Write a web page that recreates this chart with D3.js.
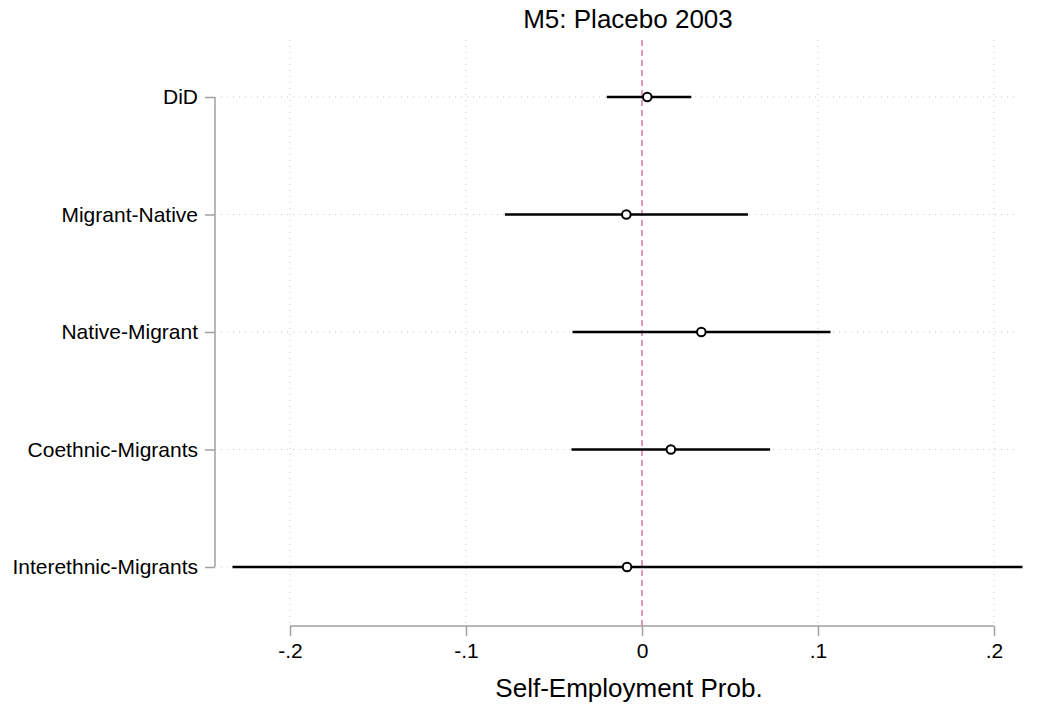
<!DOCTYPE html>
<html>
<head>
<meta charset="utf-8">
<script src="https://cdn.jsdelivr.net/npm/d3@7"></script>
<style>
  body { margin: 0; background: #fff; }
  svg { font-family: "Liberation Sans", Arial, sans-serif; }
</style>
</head>
<body>
<svg id="chart" width="1048" height="708"></svg>
<script>
// coefficient estimates with 95% CIs
var categories = ["DiD", "Migrant-Native", "Native-Migrant", "Coethnic-Migrants", "Interethnic-Migrants"];
var estimates = [0.003, -0.0089, 0.0337, 0.0164, -0.0085];
var lower = [-0.020, -0.0779, -0.0395, -0.0401, -0.2327];
var upper = [0.028, 0.0602, 0.1071, 0.0728, 0.2162];
var xTicks = [-0.2, -0.1, 0, 0.1, 0.2];
var xTickLabels = ["-.2", "-.1", "0", ".1", ".2"];

var data = categories.map(function(c, i) {
    return {cat: c, est: estimates[i], lo: lower[i], hi: upper[i]};
});

var svg = d3.select("#chart");
var plotTop = 40, plotBottom = 626, plotLeft = 215;

var x = d3.scaleLinear()
    .domain([-0.2, 0.2])
    .range([290, 994]);

var y = d3.scalePoint()
    .domain(categories)
    .range([97, 567]);

// grid
var grid = svg.append("g");
grid.selectAll("line.vg")
    .data(xTicks.filter(function(d) { return d !== 0; }))
    .enter().append("line")
    .attr("x1", function(d) { return x(d); })
    .attr("x2", function(d) { return x(d); })
    .attr("y1", plotTop)
    .attr("y2", plotBottom)
    .attr("stroke", "#c8c8c8")
    .attr("stroke-width", 1)
    .attr("stroke-dasharray", "1,5");

grid.selectAll("line.hg")
    .data(categories)
    .enter().append("line")
    .attr("x1", plotLeft + 6)
    .attr("x2", 1016)
    .attr("y1", function(d) { return y(d); })
    .attr("y2", function(d) { return y(d); })
    .attr("stroke", "#c8c8c8")
    .attr("stroke-width", 1)
    .attr("stroke-dasharray", "1,5");

// zero reference line
svg.append("line")
    .attr("x1", x(0)).attr("x2", x(0))
    .attr("y1", plotTop).attr("y2", plotBottom)
    .attr("stroke", "#d77fae")
    .attr("stroke-width", 1.6)
    .attr("stroke-dasharray", "6,4");

// x axis
var xAxis = svg.append("g")
    .attr("transform", "translate(0," + plotBottom + ")")
    .call(d3.axisBottom(x)
        .tickValues(xTicks)
        .tickFormat(function(d, i) { return xTickLabels[i]; })
        .tickSize(10)
        .tickPadding(7));
xAxis.select(".domain").attr("stroke", "#a0a0a0").attr("stroke-width", 1.5)
    .attr("d", "M" + x(-0.2) + ",0H" + x(0.2));
xAxis.selectAll(".tick line").attr("stroke", "#a0a0a0").attr("stroke-width", 1.5);
xAxis.selectAll(".tick text").attr("fill", "#000").style("font-size", "21px");

// y axis
var yAxis = svg.append("g")
    .attr("transform", "translate(" + plotLeft + ",0)")
    .call(d3.axisLeft(y).tickSize(10).tickPadding(7));
yAxis.select(".domain").attr("stroke", "#a0a0a0").attr("stroke-width", 1.5)
    .attr("d", "M0," + y(categories[0]) + "V" + y(categories[categories.length - 1]));
yAxis.selectAll(".tick line").attr("stroke", "#a0a0a0").attr("stroke-width", 1.5);
yAxis.selectAll(".tick text").attr("fill", "#000").style("font-size", "21px");

// CIs
svg.selectAll("line.ci")
    .data(data)
    .enter().append("line")
    .attr("x1", function(d) { return x(d.lo); })
    .attr("x2", function(d) { return x(d.hi); })
    .attr("y1", function(d) { return y(d.cat); })
    .attr("y2", function(d) { return y(d.cat); })
    .attr("stroke", "#000")
    .attr("stroke-width", 2.4);

// point estimates
svg.selectAll("circle.pt")
    .data(data)
    .enter().append("circle")
    .attr("cx", function(d) { return x(d.est); })
    .attr("cy", function(d) { return y(d.cat); })
    .attr("r", 4.3)
    .attr("fill", "#fff")
    .attr("stroke", "#000")
    .attr("stroke-width", 2);

// title + axis title
svg.append("text")
    .attr("x", 628).attr("y", 28)
    .attr("text-anchor", "middle")
    .style("font-size", "26px")
    .text("M5: Placebo 2003");

svg.append("text")
    .attr("x", 629).attr("y", 697)
    .attr("text-anchor", "middle")
    .style("font-size", "26px")
    .text("Self-Employment Prob.");
</script>
</body>
</html>
